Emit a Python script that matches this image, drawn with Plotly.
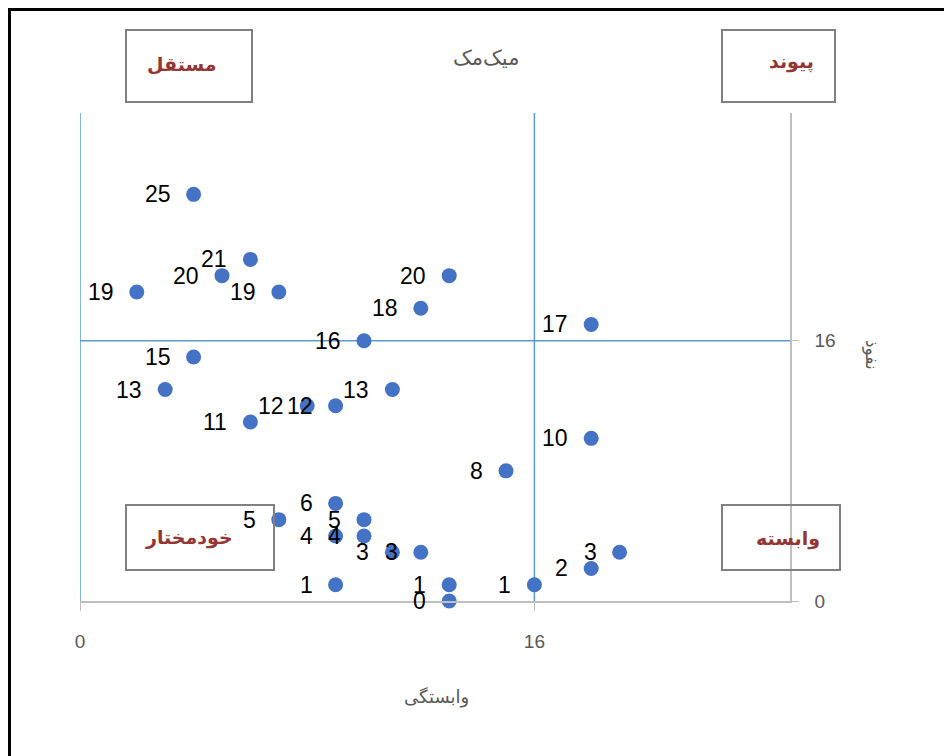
import plotly.graph_objects as go

# Data: (dependence x, influence y); labels show the influence value
x_vals = [4, 6, 5, 2, 7, 13, 12, 18, 10, 4, 3, 11, 8, 9, 6, 18, 15, 9, 7, 10, 9, 10, 11, 12, 19, 18, 9, 13, 16, 13]
y_vals = [25, 21, 20, 19, 19, 20, 18, 17, 16, 15, 13, 13, 12, 12, 11, 10, 8, 6, 5, 5, 4, 4, 3, 3, 3, 2, 1, 1, 1, 0]
point_labels = [str(v) for v in y_vals]

x_ticks = [0, 16]
y_ticks = [0, 16]
threshold = 16

title_text = "میک‌مک"
x_title = "وابستگی"
y_title = "نفوذ"
quadrant_labels = ["مستقل", "پیوند", "خودمختار", "وابسته"]

# page offset (body margin) = 8px
OFF = 8
W, H = 952 - OFF, 756 - OFF
L, R, T, B = 80, 790, 113, 601  # plot area in page pixels


def px(xp):
    return (xp - L) / (R - L)


def py(yp):
    return (B - yp) / (B - T)


fig = go.Figure()
fig.add_trace(go.Scatter(
    x=x_vals, y=y_vals, mode="markers",
    marker=dict(size=15, color="#4472C4"),
    cliponaxis=False, showlegend=False,
))

annotations = []
for xv, yv, lab in zip(x_vals, y_vals, point_labels):
    annotations.append(dict(xref="x", yref="y", x=xv, y=yv, text=lab, showarrow=False,
                            xanchor="right", yanchor="middle", xshift=-21, yshift=0,
                            font=dict(family="Liberation Sans", size=23, color="#000000")))

shapes = []
line_blue = dict(color="#5B9BD5", width=1.5)
# quadrant lines
shapes.append(dict(type="line", xref="x", yref="y", x0=0, x1=0, y0=0, y1=30, line=line_blue, layer="below"))
shapes.append(dict(type="line", xref="x", yref="y", x0=threshold, x1=threshold, y0=0, y1=30, line=line_blue, layer="below"))
shapes.append(dict(type="line", xref="x", yref="y", x0=0, x1=25, y0=threshold, y1=threshold, line=line_blue, layer="below"))

# quadrant boxes (page pixel rects)
boxes = [
    (126, 30, 252, 102, 182, 64),
    (722, 30, 835, 102, 791, 62),
    (126, 505, 274, 570, 189, 537),
    (722, 505, 840, 570, 788, 538),
]
for (x0, y0, x1, y1, cx, cy), lab in zip(boxes, quadrant_labels):
    shapes.append(dict(type="rect", xref="paper", yref="paper",
                       x0=px(x0), x1=px(x1), y0=py(y1), y1=py(y0),
                       line=dict(color="#808080", width=2), fillcolor="rgba(0,0,0,0)"))
    annotations.append(dict(xref="paper", yref="paper", x=px(cx), y=py(cy), text="<b>" + lab + "</b>",
                            showarrow=False, font=dict(family="DejaVu Sans", size=19, color="#943634"),
                            xanchor="center", yanchor="middle"))

# outer border (top & left visible)
shapes.append(dict(type="rect", xref="paper", yref="paper",
                   x0=px(9.5), x1=px(1000), y0=py(800), y1=py(9.5),
                   line=dict(color="#000000", width=3), fillcolor="rgba(0,0,0,0)"))

annotations.append(dict(xref="paper", yref="paper", x=px(486), y=py(58), text=title_text, showarrow=False,
                        font=dict(family="DejaVu Sans", size=21, color="#595959"), xanchor="center", yanchor="middle"))
annotations.append(dict(xref="paper", yref="paper", x=px(436), y=py(697), text=x_title, showarrow=False,
                        font=dict(family="DejaVu Sans", size=18, color="#595959"), xanchor="center", yanchor="middle"))
annotations.append(dict(xref="paper", yref="paper", x=px(872), y=py(355), text=y_title, showarrow=False,
                        textangle=90,
                        font=dict(family="DejaVu Sans", size=17, color="#595959"), xanchor="center", yanchor="middle"))

fig.update_layout(
    width=W, height=H,
    margin=dict(l=L - OFF, r=W - (R - OFF), t=T - OFF, b=H - (B - OFF), pad=0),
    paper_bgcolor="white", plot_bgcolor="white",
    shapes=shapes, annotations=annotations,
    xaxis=dict(range=[0, 25], tickvals=x_ticks, ticktext=[str(v) for v in x_ticks],
               showgrid=False, zeroline=False, showline=True, linecolor="#BFBFBF", linewidth=1.5,
               ticks="outside", ticklen=8, tickcolor="#BFBFBF", ticklabelstandoff=14,
               tickfont=dict(family="Liberation Sans", size=19, color="#595959")),
    yaxis=dict(range=[0, 30], tickvals=y_ticks, ticktext=[str(v) for v in y_ticks], side="right",
               showgrid=False, zeroline=False, showline=True, linecolor="#BFBFBF", linewidth=1.5,
               ticks="outside", ticklen=7, tickcolor="#BFBFBF", ticklabelstandoff=12,
               tickfont=dict(family="Liberation Sans", size=19, color="#595959")),
)

fig.write_html("out.html")
